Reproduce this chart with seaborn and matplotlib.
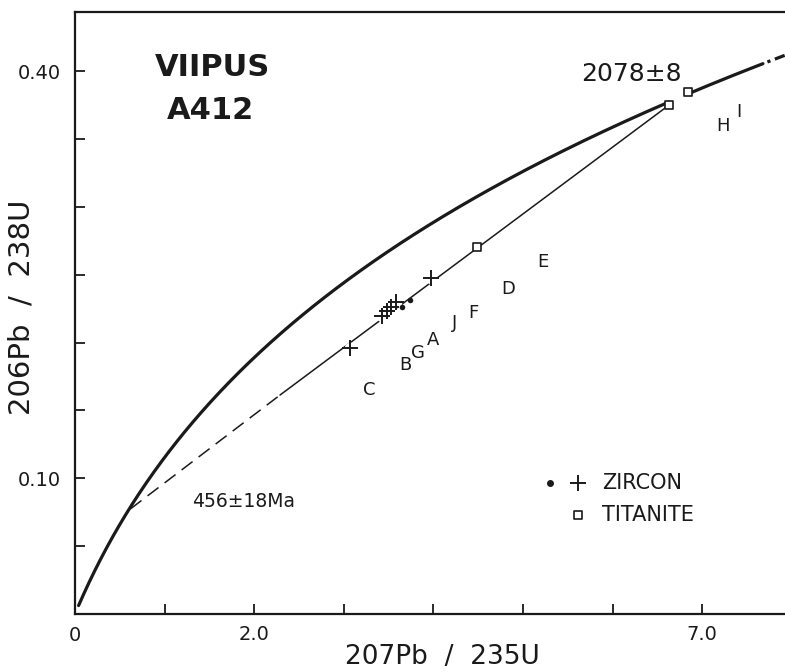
import matplotlib
matplotlib.use("Agg")
import matplotlib.pyplot as plt
import seaborn as sns
import numpy as np

# U decay constants (1/yr) defining the concordia
LAMBDA_238 = 1.55125e-10
LAMBDA_235 = 9.8485e-10

# Concordia segments, as age ranges in Ma
concordia_lower_ages = [40, 2063]
concordia_upper_ages = [2091, 2194]
concordia_tail_ages = [2194, 2222]

# Discordia chord: dashed part from the lower intercept, then solid up to the upper intercept
chord_dashed_x = [0.620, 2.288]
chord_dashed_y = [0.0775, 0.1613]
chord_solid_x = [2.288, 6.629]
chord_solid_y = [0.1613, 0.3749]

# Analyses (207Pb/235U, 206Pb/238U)
zircon_plus_x = [3.069, 3.421, 3.477, 3.532, 3.588, 3.970]
zircon_plus_y = [0.1957, 0.2199, 0.2232, 0.2265, 0.2298, 0.2473]
zircon_dot_x = [3.655, 3.739]
zircon_dot_y = [0.2262, 0.2313]
titanite_x = [4.490, 6.629, 6.842]
titanite_y = [0.2701, 0.3749, 0.3845]

# Fraction letters
frac_labels = ["C", "B", "G", "A", "J", "F", "D", "E", "H", "I"]
frac_x = [3.285, 3.683, 3.832, 3.999, 4.233, 4.445, 4.836, 5.227, 7.236, 7.414]
frac_y = [0.1650, 0.1834, 0.1920, 0.2018, 0.2141, 0.2215, 0.2392, 0.2595, 0.3595, 0.3700]

x_ticks = [1, 2, 3, 4, 5, 6, 7]
x_ticklabels = ["", "2.0", "", "", "", "", "7.0"]
y_ticks = [0.05, 0.10, 0.15, 0.20, 0.25, 0.30, 0.35, 0.40]
y_ticklabels = ["", "0.10", "", "", "", "", "", "0.40"]


def concordia(age_range, n=300):
    t = np.linspace(age_range[0], age_range[1], n) * 1e6
    return np.expm1(LAMBDA_235 * t), np.expm1(LAMBDA_238 * t)


sns.set_theme(style="ticks")
plt.rcParams["font.family"] = ["DejaVu Sans"]

fig = plt.figure(figsize=(7.85, 6.72), dpi=100)
ax = fig.add_axes([75 / 785, 1 - 614 / 672, 710 / 785, 602 / 672])
ax.set_xlim(0, 7.924)
ax.set_ylim(0, 0.4435)

ink = "#1a1a1a"

# Concordia
for ages, style in [(concordia_lower_ages, "-"), (concordia_upper_ages, "-"),
                    (concordia_tail_ages, (8.5, (1, 1.5, 6, 1.5)))]:
    cx, cy = concordia(ages)
    sns.lineplot(x=cx, y=cy, ax=ax, color=ink, linewidth=2.3, sort=False,
                 estimator=None, zorder=2, linestyle=style)

# Chord
sns.lineplot(x=chord_dashed_x, y=chord_dashed_y, ax=ax, color=ink, linewidth=1.1,
             sort=False, estimator=None, zorder=2, linestyle=(0, (9, 5)))
sns.lineplot(x=chord_solid_x, y=chord_solid_y, ax=ax, color=ink, linewidth=1.1,
             sort=False, estimator=None, zorder=2)

# White halos so the chord breaks around the crosses
sns.scatterplot(x=zircon_plus_x, y=zircon_plus_y, ax=ax, marker="o", s=70,
                color="white", linewidth=0, zorder=3)
sns.scatterplot(x=zircon_plus_x, y=zircon_plus_y, ax=ax, marker="+", s=130,
                color=ink, linewidth=1.4, zorder=4)
sns.scatterplot(x=zircon_dot_x, y=zircon_dot_y, ax=ax, marker="o", s=16,
                color=ink, linewidth=0, zorder=4)
sns.scatterplot(x=titanite_x, y=titanite_y, ax=ax, marker="s", s=38,
                facecolor="white", edgecolor=ink, linewidth=1.2, zorder=5)

for lab, xx, yy in zip(frac_labels, frac_x, frac_y):
    ax.text(xx, yy, lab, ha="center", va="center", fontsize=13, color=ink)

# Intercept ages
ax.text(6.205, 0.3978, "2078±8", ha="center", va="center", fontsize=18, color=ink)
ax.text(1.306, 0.0832, "456±18Ma", ha="left", va="center", fontsize=13.5, color=ink)

# Sample name
ax.text(0.193, 0.907, "VIIPUS", transform=ax.transAxes, ha="center", va="center",
        fontsize=22, fontweight="bold", color=ink)
ax.text(0.191, 0.836, "A412", transform=ax.transAxes, ha="center", va="center",
        fontsize=22, fontweight="bold", color=ink)

# Key
ax.scatter([0.669], [0.2176], transform=ax.transAxes, marker="o", s=16, color=ink, zorder=5)
ax.scatter([0.7085], [0.2176], transform=ax.transAxes, marker="+", s=130, color=ink,
           linewidth=1.4, zorder=5)
ax.scatter([0.7085], [0.1645], transform=ax.transAxes, marker="s", s=38, facecolor="white",
           edgecolor=ink, linewidth=1.2, zorder=5)
ax.text(0.742, 0.2176, "ZIRCON", transform=ax.transAxes, ha="left", va="center",
        fontsize=15, color=ink)
ax.text(0.742, 0.1645, "TITANITE", transform=ax.transAxes, ha="left", va="center",
        fontsize=15, color=ink)

# Axes styling
for side in ["left", "bottom", "top"]:
    ax.spines[side].set_visible(True)
    ax.spines[side].set_linewidth(1.6)
    ax.spines[side].set_color(ink)
ax.spines["right"].set_visible(False)

ax.set_xticks(x_ticks)
ax.set_xticklabels(x_ticklabels)
ax.set_yticks(y_ticks)
ax.set_yticklabels(y_ticklabels)
ax.tick_params(axis="both", direction="in", length=7, width=1.3, color=ink,
               labelsize=14, labelcolor=ink, pad=8)
ax.tick_params(axis="y", pad=10)
ax.text(0.0, -0.036, "0", transform=ax.transAxes, ha="center", va="center",
        fontsize=14, color=ink)

ax.set_xlabel("207Pb  /  235U", fontsize=19, color=ink)
ax.xaxis.label.set_va("center")
ax.xaxis.set_label_coords(0.517, -0.071)
ax.set_ylabel("206Pb  /  238U", fontsize=21, color=ink)
ax.yaxis.label.set_va("center")
ax.yaxis.set_label_coords(-0.075, 0.51)

ax.set_facecolor("white")
fig.patch.set_facecolor("white")
fig.savefig("out.png", dpi=100, facecolor="white")
